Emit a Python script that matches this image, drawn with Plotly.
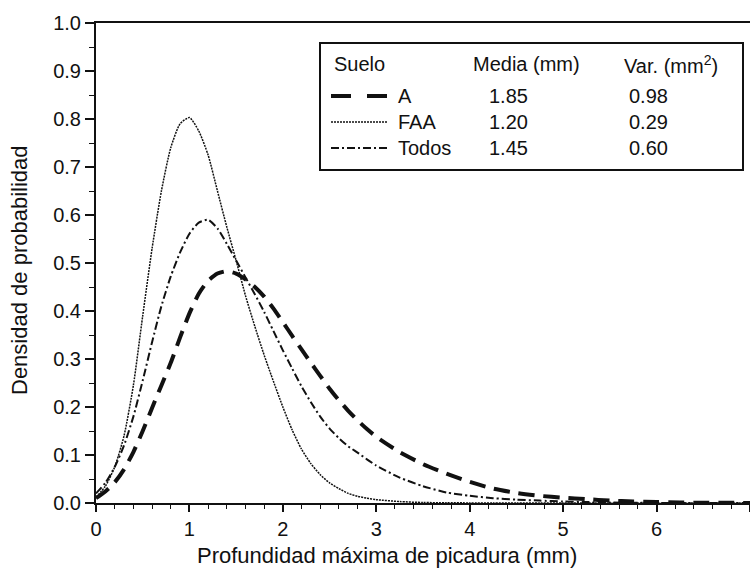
import plotly.graph_objects as go

# ---- data ----
x_vals = [0.0, 0.1, 0.2, 0.3, 0.4, 0.5, 0.6, 0.7, 0.8, 0.9,
          1.0, 1.1, 1.2, 1.3, 1.4, 1.5, 1.6, 1.7, 1.8, 1.9,
          2.0, 2.1, 2.2, 2.3, 2.4, 2.5, 2.6, 2.7, 2.8, 2.9,
          3.0, 3.25, 3.5, 3.75, 4.0, 4.25, 4.5, 4.75, 5.0, 5.25,
          5.5, 5.75, 6.0, 6.25, 6.5, 6.75, 7.0]

dens_A = [0.010, 0.024, 0.043, 0.070, 0.106, 0.150, 0.198, 0.245, 0.292, 0.345,
          0.395, 0.436, 0.463, 0.478, 0.483, 0.478, 0.466, 0.450, 0.430, 0.405,
          0.377, 0.348, 0.320, 0.292, 0.265, 0.238, 0.214, 0.192, 0.172, 0.154,
          0.138, 0.106, 0.081, 0.061, 0.044, 0.030, 0.021, 0.015, 0.011, 0.008,
          0.005, 0.003, 0.002, 0.001, 0.0005, 0.0003, 0.0002]

dens_FAA = [0.012, 0.035, 0.075, 0.140, 0.245, 0.390, 0.530, 0.650, 0.740, 0.790,
            0.803, 0.775, 0.725, 0.650, 0.575, 0.505, 0.432, 0.368, 0.308, 0.253,
            0.200, 0.152, 0.112, 0.082, 0.059, 0.042, 0.030, 0.020, 0.014, 0.010,
            0.007, 0.003, 0.001, 0.0005, 0.0002, 0.0001, 0.0, 0.0, 0.0, 0.0,
            0.0, 0.0, 0.0, 0.0, 0.0, 0.0, 0.0]

dens_Todos = [0.020, 0.042, 0.075, 0.120, 0.180, 0.255, 0.335, 0.410, 0.472, 0.522,
              0.561, 0.584, 0.590, 0.572, 0.540, 0.505, 0.470, 0.435, 0.398, 0.358,
              0.318, 0.280, 0.243, 0.210, 0.180, 0.155, 0.135, 0.118, 0.105, 0.091,
              0.078, 0.053, 0.035, 0.022, 0.015, 0.010, 0.007, 0.005, 0.003, 0.002,
              0.001, 0.0005, 0.0002, 0.0001, 0.0, 0.0, 0.0]

soil_names = ["A", "FAA", "Todos"]
soil_means = ["1.85", "1.20", "1.45"]
soil_vars = ["0.98", "0.29", "0.60"]

x_title = "Profundidad máxima de picadura (mm)"
y_title = "Densidad de probabilidad"

# ---- styling ----
FONT = "Liberation Sans, Arial, sans-serif"
INK = "#111111"
styles = {
    "A": dict(width=4, dash="16px,9px"),
    "FAA": dict(width=1.5, dash="2px,1px"),
    "Todos": dict(width=2, dash="8px,3px,2px,3px"),
}
series = {"A": dens_A, "FAA": dens_FAA, "Todos": dens_Todos}

fig = go.Figure()
for name in soil_names:
    fig.add_trace(go.Scatter(
        x=x_vals, y=series[name], mode="lines", name=name,
        line=dict(color=INK, width=styles[name]["width"], dash=styles[name]["dash"],
                  shape="spline", smoothing=0.6),
        showlegend=False, hoverinfo="x+y"))

L, T, B = 96, 23, 66
W, H = 750, 569
PW, PH = W - L, H - T - B


def px2paper(px, py):
    return (px - L) / PW, (H - B - py) / PH


# legend box
bx0, by0 = px2paper(320, 43)
bx1, by1 = px2paper(743, 170)
shapes = [dict(type="rect", xref="paper", yref="paper", x0=bx0, x1=bx1, y0=by1, y1=by0,
               line=dict(color=INK, width=2), fillcolor="white", layer="above")]

annotations = []
row_y = [96, 122, 148]
sample_dash = {"A": "20px,16px", "FAA": "2px,1px", "Todos": "8px,3px,2px,3px"}


def txt(px, py, s, size=20, anchor="left"):
    xp, yp = px2paper(px, py)
    annotations.append(dict(x=xp, y=yp, xref="paper", yref="paper", text=s,
                            showarrow=False, xanchor=anchor, yanchor="middle",
                            font=dict(family=FONT, size=size, color=INK)))


txt(332, 64, "Suelo")
txt(471, 64, "Media (mm)")
txt(622, 64, "Var. (mm<sup>2</sup>)")
for name, m, v, py in zip(soil_names, soil_means, soil_vars, row_y):
    sx0, sy = px2paper(331, py)
    sx1, _ = px2paper(388, py)
    shapes.append(dict(type="line", xref="paper", yref="paper", x0=sx0, x1=sx1, y0=sy, y1=sy,
                       line=dict(color=INK, width=styles[name]["width"], dash=sample_dash[name]),
                       layer="above"))
    txt(396, py, name)
    txt(487, py, m)
    txt(627, py, v)

# axis titles
xt, yt = px2paper(387, 555)
annotations.append(dict(x=xt, y=yt, xref="paper", yref="paper", text=x_title, showarrow=False,
                        xanchor="center", yanchor="middle",
                        font=dict(family=FONT, size=22, color=INK)))
xt, yt = px2paper(19, 270)
annotations.append(dict(x=xt, y=yt, xref="paper", yref="paper", text=y_title, showarrow=False,
                        xanchor="center", yanchor="middle", textangle=-90,
                        font=dict(family=FONT, size=22, color=INK)))

fig.update_layout(
    width=W, height=H,
    margin=dict(l=L, r=0, t=T, b=B, autoexpand=False),
    paper_bgcolor="white", plot_bgcolor="white",
    font=dict(family=FONT, size=20, color=INK),
    shapes=shapes, annotations=annotations,
    showlegend=False,
)
fig.update_xaxes(
    range=[0, 7], tick0=0, dtick=1, showgrid=False, zeroline=False,
    showline=True, linecolor=INK, linewidth=2, mirror=True,
    ticks="outside", ticklen=7, tickwidth=1.5, tickcolor=INK,
    minor=dict(dtick=0.2, ticks="outside", ticklen=4, tickwidth=1.2, tickcolor=INK),
    tickfont=dict(family=FONT, size=20, color=INK),
)
fig.update_yaxes(
    range=[0, 1.0], tick0=0, dtick=0.1, tickformat=".1f", showgrid=False, zeroline=False,
    showline=True, linecolor=INK, linewidth=2, mirror=False,
    ticks="outside", ticklen=9, tickwidth=1.5, tickcolor=INK,
    minor=dict(dtick=0.05, ticks="outside", ticklen=5, tickwidth=1.2, tickcolor=INK),
    tickfont=dict(family=FONT, size=20, color=INK),
)

fig.write_html("out.html")
